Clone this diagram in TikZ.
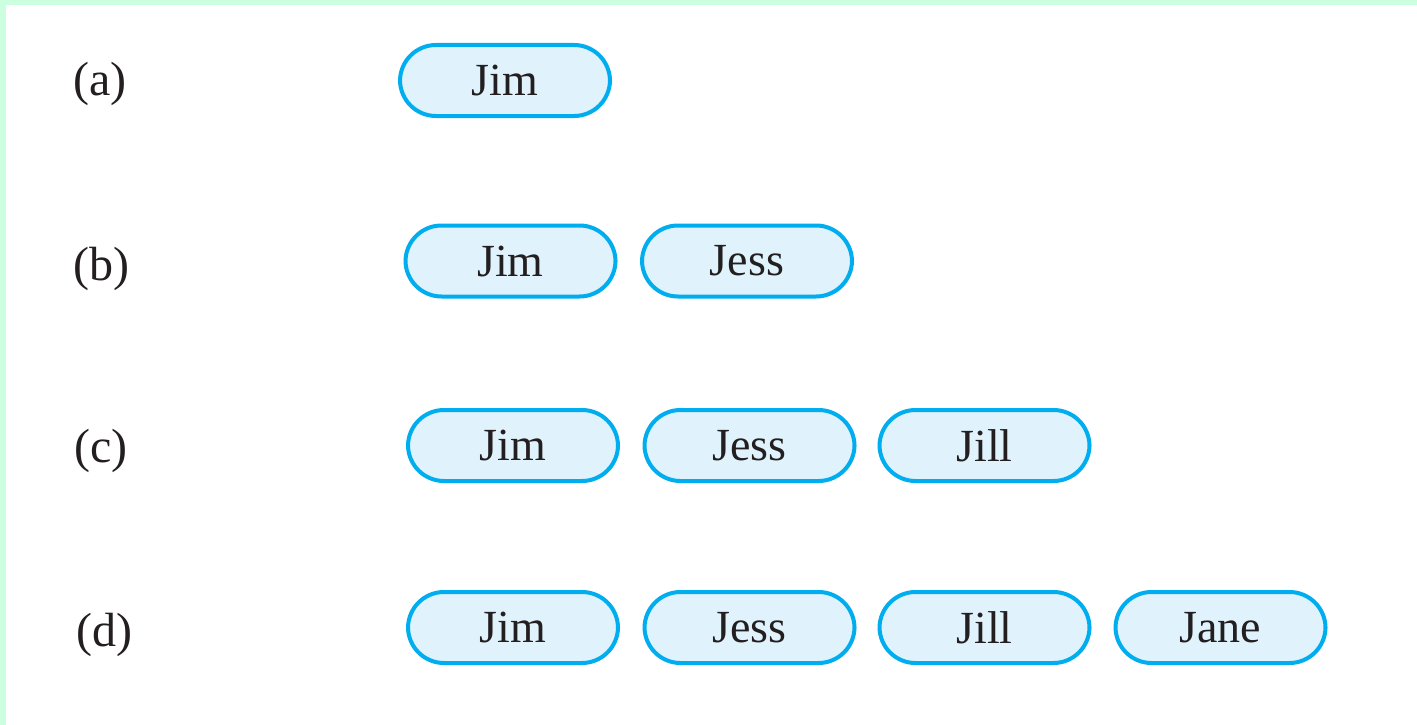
\documentclass[tikz,border=0pt]{standalone}
\usepackage{fontspec}
\setmainfont{Liberation Serif}
\definecolor{mint}{HTML}{CCFFE0}
\definecolor{pillline}{HTML}{00AEEF}
\definecolor{pillfill}{HTML}{E0F2FC}
\definecolor{txt}{HTML}{231F20}
\begin{document}
\begin{tikzpicture}[x=1pt,y=-1pt,
  pill/.style={draw=pillline,fill=pillfill,line width=4pt,rounded corners=36pt,
    minimum width=210pt,minimum height=71pt,inner sep=0pt,
    font=\fontsize{46}{46}\selectfont,text=txt},
  lbl/.style={font=\fontsize{48}{48}\selectfont,text=txt,inner sep=0pt}]
\useasboundingbox (0,0) rectangle (1417,725);
\fill[white] (0,0) rectangle (1417,725);
\fill[mint] (0,0) rectangle (1417,5);
\fill[mint] (0,0) rectangle (6,725);
% labels
\node[lbl] (la) at (100,84) {(a)};
\node[lbl] (lb) at (101,269) {(b)};
\node[lbl] (lc) at (101,451) {(c)};
\node[lbl] (ld) at (104,635) {(d)};
% row a
\node[pill] (a1) at (505,80.5) {Jim};
% row b
\node[pill] (b1) at (510.5,261) {Jim};
\node[pill] (b2) at (747,261) {Jess};
% row c
\node[pill] (c1) at (513,445.5) {Jim};
\node[pill] (c2) at (749.5,445.5) {Jess};
\node[pill] (c3) at (984.5,445.5) {Jill};
% row d
\node[pill] (d1) at (513,627.5) {Jim};
\node[pill] (d2) at (749.5,627.5) {Jess};
\node[pill] (d3) at (984.5,627.5) {Jill};
\node[pill] (d4) at (1220.5,627.5) {Jane};
\end{tikzpicture}
\end{document}
